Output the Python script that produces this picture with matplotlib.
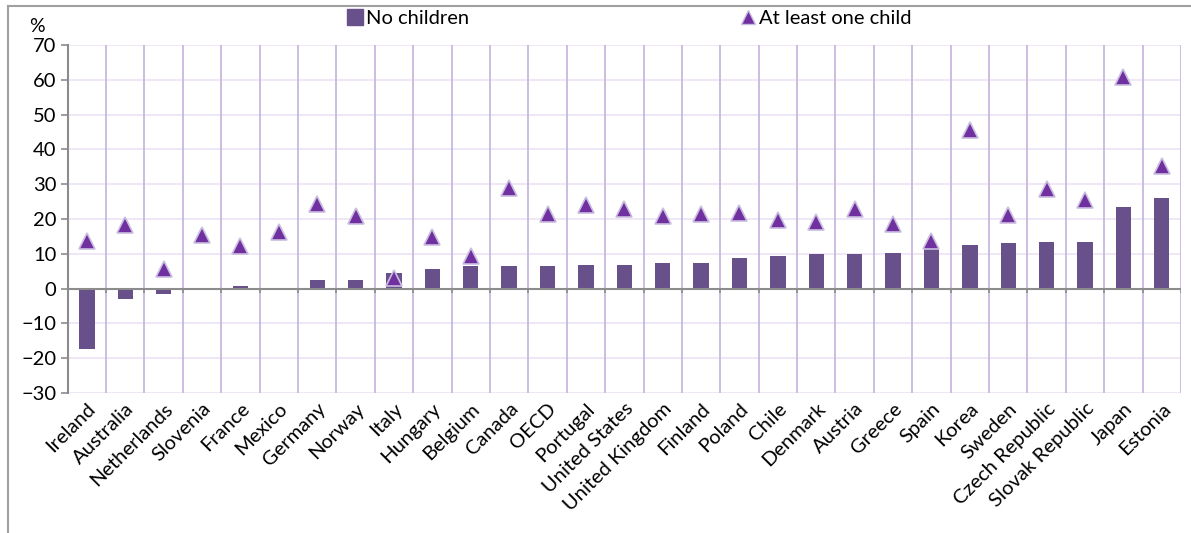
import matplotlib
matplotlib.use('Agg')
import matplotlib.pyplot as plt
from matplotlib.lines import Line2D
import numpy as np

plt.rcParams['font.family'] = ['Lato', 'DejaVu Sans']

# data
countries = ['Ireland', 'Australia', 'Netherlands', 'Slovenia', 'France', 'Mexico',
             'Germany', 'Norway', 'Italy', 'Hungary', 'Belgium', 'Canada', 'OECD',
             'Portugal', 'United States', 'United Kingdom', 'Finland', 'Poland',
             'Chile', 'Denmark', 'Austria', 'Greece', 'Spain', 'Korea', 'Sweden',
             'Czech Republic', 'Slovak Republic', 'Japan', 'Estonia']
no_children = [-17.3, -3.0, -1.5, -0.2, 0.8, 0.0, 2.6, 2.6, 4.6, 5.5, 6.4, 6.4, 6.4,
               6.9, 6.8, 7.4, 7.4, 8.8, 9.3, 9.8, 9.8, 10.3, 11.6, 12.6, 13.0,
               13.5, 13.5, 23.5, 25.9]
at_least_one = [13.6, 18.3, 5.6, 15.4, 12.1, 16.3, 24.4, 20.9, 2.9, 14.9, 9.4, 28.8,
                21.5, 23.9, 22.9, 21.0, 21.4, 21.7, 19.7, 19.2, 23.0, 18.7, 13.7,
                45.7, 21.2, 28.5, 25.4, 60.7, 35.2]

bar_color = '#68508a'
tri_color = '#7030a0'
vgrid_color = '#c3b3dc'
hgrid_color = '#ece2f5'
axis_gray = '#8c8c8c'

fig = plt.figure(figsize=(11.91, 5.33), dpi=100)
ax = fig.add_axes([0.0568, 0.2627, 0.9348, 0.6529])

x = np.arange(len(countries))
n = len(countries)

# grid
for yv in range(-30, 80, 10):
    ax.axhline(yv, color=hgrid_color, lw=1.2, zorder=0)
for b in np.arange(0.5, n, 1.0):
    ax.axvline(b, color=vgrid_color, lw=1.2, zorder=0)

ax.bar(x, no_children, width=0.4, color=bar_color, zorder=2, label='No children')
ax.plot(x, at_least_one, linestyle='none', marker='^', markersize=11,
        markerfacecolor=tri_color, markeredgecolor='#c9bde0', markeredgewidth=1.2,
        zorder=3, label='At least one child')

# zero line with small tick marks
ax.axhline(0, color=axis_gray, lw=1.5, zorder=2.5)
ax.vlines(np.arange(-0.5, n, 1.0), -1.4, 0, color=axis_gray, lw=1.2, zorder=2.5)

ax.set_xlim(-0.5, n - 0.5)
ax.set_ylim(-30, 70)
ax.set_yticks(range(-30, 80, 10))
ax.set_xticks(x)
ax.set_xticklabels(countries, rotation=45, ha='right', rotation_mode='anchor', fontsize=14.5)
ax.tick_params(axis='x', length=0, pad=5)
ax.tick_params(axis='y', labelsize=14.5, length=5, color=axis_gray, width=1.2, pad=3)

for s in ['top', 'right', 'bottom']:
    ax.spines[s].set_visible(False)
ax.spines['left'].set_color(axis_gray)
ax.spines['left'].set_linewidth(1.5)

fig.text(0.031, 0.935, '%', fontsize=14, ha='center', va='bottom')

# legend
handles = [Line2D([], [], linestyle='none', marker='s', markersize=11,
                  markerfacecolor=bar_color, markeredgecolor=bar_color),
           Line2D([], [], linestyle='none', marker='^', markersize=10,
                  markerfacecolor=tri_color, markeredgecolor='#c9bde0')]
fig.legend(handles, ['No children', 'At least one child'], loc='center',
           bbox_to_anchor=(0.5285, 0.966), ncol=2, frameon=False, fontsize=14.5,
           handlelength=0.7, handletextpad=0.2, columnspacing=13.5)

# outer chart frame
fig.add_artist(Line2D([0.0067, 1.0], [0.989, 0.989], transform=fig.transFigure,
                      color='#a0a0a0', lw=1.5))
fig.add_artist(Line2D([0.0067, 0.0067], [0.0, 0.989], transform=fig.transFigure,
                      color='#a0a0a0', lw=1.5))

plt.savefig('out.png', dpi=100)
